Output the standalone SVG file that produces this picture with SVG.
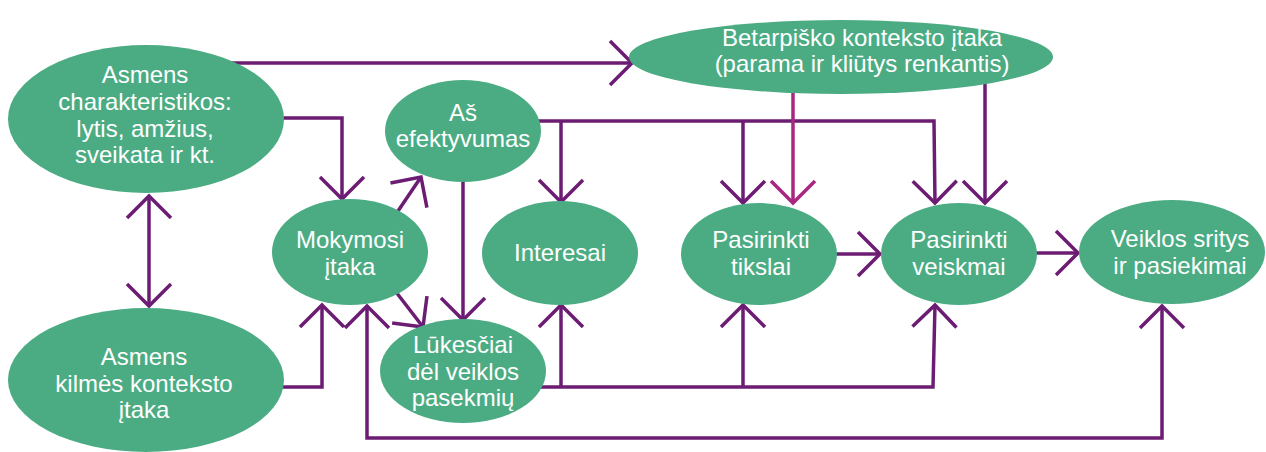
<svg xmlns="http://www.w3.org/2000/svg" width="1266" height="452" viewBox="0 0 1266 452">
  <style>
    .node { fill: #4BAC83; }
    .label { font-family: "Liberation Sans", Arial, sans-serif; font-size: 24px; fill: #ffffff; text-anchor: middle; }
    .wire { fill: none; stroke: #6C1D73; stroke-width: 3.5; stroke-linejoin: miter; }
    .wire-m { fill: none; stroke: #A8277F; stroke-width: 3.5; }
  </style>
  <defs>
    <marker id="vee" markerUnits="userSpaceOnUse" viewBox="-26 -26 30 52" refX="0" refY="0" markerWidth="30" markerHeight="52" orient="auto-start-reverse" overflow="visible">
      <path d="M-22,-22 L0,0 L-22,22" fill="none" stroke="#6C1D73" stroke-width="3.5"/>
    </marker>
    <marker id="vee-m" markerUnits="userSpaceOnUse" viewBox="-26 -26 30 52" refX="0" refY="0" markerWidth="30" markerHeight="52" orient="auto" overflow="visible">
      <path d="M-22,-22 L0,0 L-22,22" fill="none" stroke="#A8277F" stroke-width="3.5"/>
    </marker>
  </defs>

  <!-- connectors -->
  <g id="connectors">
    <line class="wire" x1="149" y1="196" x2="149" y2="306" marker-start="url(#vee)" marker-end="url(#vee)"/>
    <polyline class="wire" points="230,63 632,63" marker-end="url(#vee)"/>
    <polyline class="wire" points="278,118 342,118 342,199" marker-end="url(#vee)"/>
    <line class="wire" x1="396" y1="214" x2="421" y2="177" marker-end="url(#vee)"/>
    <line class="wire" x1="396" y1="292" x2="423" y2="327" marker-end="url(#vee)"/>
    <line class="wire" x1="463" y1="175" x2="463" y2="320" marker-end="url(#vee)"/>
    <polyline class="wire" points="536,121 934,121 935,203" marker-end="url(#vee)"/>
    <line class="wire" x1="561" y1="121" x2="561" y2="202" marker-end="url(#vee)"/>
    <line class="wire" x1="743" y1="121" x2="743" y2="203" marker-end="url(#vee)"/>
    <line class="wire-m" x1="793" y1="88" x2="793" y2="203" marker-end="url(#vee-m)"/>
    <line class="wire" x1="985" y1="82" x2="985" y2="203" marker-end="url(#vee)"/>
    <polyline class="wire" points="540,387 933,387 935,305" marker-end="url(#vee)"/>
    <line class="wire" x1="561" y1="387" x2="561" y2="305" marker-end="url(#vee)"/>
    <line class="wire" x1="743" y1="387" x2="743" y2="305" marker-end="url(#vee)"/>
    <polyline class="wire" points="278,387 322,387 322,305" marker-end="url(#vee)"/>
    <polyline class="wire" points="367,306 367,438 1162,438 1162,306" marker-start="url(#vee)" marker-end="url(#vee)"/>
    <line class="wire" x1="832" y1="254" x2="880" y2="254" marker-end="url(#vee)"/>
    <line class="wire" x1="1032" y1="253" x2="1078" y2="253" marker-end="url(#vee)"/>
  </g>

  <!-- nodes -->
  <g id="asmens-charakteristikos">
    <ellipse class="node" cx="146" cy="119" rx="138" ry="74"/>
    <text class="label" x="145" y="83">Asmens</text>
    <text class="label" x="145" y="110">charakteristikos:</text>
    <text class="label" x="145" y="137">lytis, amžius,</text>
    <text class="label" x="145" y="163">sveikata ir kt.</text>
  </g>
  <g id="asmens-kilmes">
    <ellipse class="node" cx="146" cy="380" rx="138" ry="72"/>
    <text class="label" x="144" y="365">Asmens</text>
    <text class="label" x="144" y="392">kilmės konteksto</text>
    <text class="label" x="144" y="418">įtaka</text>
  </g>
  <g id="betarpisko">
    <ellipse class="node" cx="841" cy="57" rx="212" ry="37"/>
    <text class="label" x="862" y="46">Betarpiško konteksto įtaka</text>
    <text class="label" x="862" y="72">(parama ir kliūtys renkantis)</text>
  </g>
  <g id="mokymosi">
    <ellipse class="node" cx="350" cy="252" rx="78" ry="53"/>
    <text class="label" x="350" y="248">Mokymosi</text>
    <text class="label" x="350" y="275">įtaka</text>
  </g>
  <g id="as-efektyvumas">
    <ellipse class="node" cx="463" cy="131" rx="78" ry="51"/>
    <text class="label" x="463" y="121">Aš</text>
    <text class="label" x="463" y="147">efektyvumas</text>
  </g>
  <g id="interesai">
    <ellipse class="node" cx="560" cy="253" rx="78" ry="52"/>
    <text class="label" x="560" y="261">Interesai</text>
  </g>
  <g id="lukesciai">
    <ellipse class="node" cx="463" cy="371" rx="83" ry="52"/>
    <text class="label" x="463" y="353">Lūkesčiai</text>
    <text class="label" x="463" y="380">dėl veiklos</text>
    <text class="label" x="463" y="406">pasekmių</text>
  </g>
  <g id="pasirinkti-tikslai">
    <ellipse class="node" cx="759" cy="254" rx="78" ry="51"/>
    <text class="label" x="761" y="248">Pasirinkti</text>
    <text class="label" x="761" y="275">tikslai</text>
  </g>
  <g id="pasirinkti-veiksmai">
    <ellipse class="node" cx="959" cy="254" rx="78" ry="51"/>
    <text class="label" x="959" y="248">Pasirinkti</text>
    <text class="label" x="959" y="275">veiskmai</text>
  </g>
  <g id="veiklos-sritys">
    <ellipse class="node" cx="1172" cy="252" rx="93" ry="52"/>
    <text class="label" x="1180" y="247">Veiklos sritys</text>
    <text class="label" x="1180" y="274">ir pasiekimai</text>
  </g>
</svg>
